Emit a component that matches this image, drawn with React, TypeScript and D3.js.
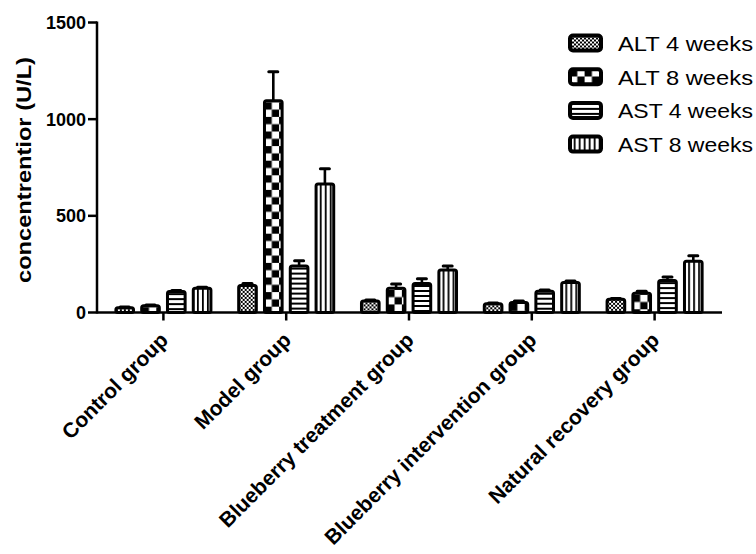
import React, { useEffect, useRef } from "react";
import * as d3 from "d3";

// groups on the x axis
const groups = [
  "Control group",
  "Model group",
  "Blueberry treatment group",
  "Blueberry intervention group",
  "Natural recovery group",
];

const series = ["ALT 4 weeks", "ALT 8 weeks", "AST 4 weeks", "AST 8 weeks"];

// mean values (U/L), one per group
const alt4 = [25, 140, 60, 45, 68];
const alt8 = [35, 1095, 125, 52, 100];
const ast4 = [108, 240, 150, 110, 165];
const ast8 = [125, 665, 220, 155, 265];

// error bar (upper) sizes
const alt4Err = [3, 10, 5, 4, 5];
const alt8Err = [4, 150, 22, 8, 10];
const ast4Err = [6, 28, 25, 6, 18];
const ast8Err = [6, 78, 20, 8, 28];

const yTicks = [0, 500, 1000, 1500];

const values = [alt4, alt8, ast4, ast8];
const errors = [alt4Err, alt8Err, ast4Err, ast8Err];

const FONT = "Arial, 'Liberation Sans', sans-serif";

const App = () => {
  const ref = useRef<SVGSVGElement>(null);

  useEffect(() => {
    const svg = d3.select(ref.current);
    svg.selectAll("*").remove();

    const axisX = 97;

    const y = d3.scaleLinear().domain([0, 1500]).range([312.5, 22.5]);
    const x0 = d3.scaleBand().domain(groups).range([102, 716]).padding(0);
    const x1 = d3
      .scaleBand()
      .domain(series)
      .range([0, x0.bandwidth()])
      .paddingInner(0.2)
      .paddingOuter(0.48);

    const defs = svg.append("defs");

    // fine checker (ALT 4 weeks)
    const makeFine = (id: string, ox: number, oy: number) => {
      const p = defs
        .append("pattern")
        .attr("id", id)
        .attr("patternUnits", "userSpaceOnUse")
        .attr("x", ox)
        .attr("y", oy)
        .attr("width", 4)
        .attr("height", 4);
      p.append("rect").attr("width", 4).attr("height", 4).attr("fill", "white");
      p.append("rect").attr("width", 2).attr("height", 2).attr("fill", "black");
      p.append("rect").attr("x", 2).attr("y", 2).attr("width", 2).attr("height", 2).attr("fill", "black");
    };
    // big checker (ALT 8 weeks)
    const makeBig = (id: string, ox: number, oy: number, s: number) => {
      const p = defs
        .append("pattern")
        .attr("id", id)
        .attr("patternUnits", "userSpaceOnUse")
        .attr("x", ox)
        .attr("y", oy)
        .attr("width", s * 2)
        .attr("height", s * 2);
      p.append("rect").attr("width", s * 2).attr("height", s * 2).attr("fill", "white");
      p.append("rect").attr("width", s).attr("height", s).attr("fill", "black");
      p.append("rect").attr("x", s).attr("y", s).attr("width", s).attr("height", s).attr("fill", "black");
    };
    // horizontal lines (AST 4 weeks)
    const makeHoriz = (id: string, ox: number, oy: number) => {
      const p = defs
        .append("pattern")
        .attr("id", id)
        .attr("patternUnits", "userSpaceOnUse")
        .attr("x", ox)
        .attr("y", oy)
        .attr("width", 10)
        .attr("height", 5);
      p.append("rect").attr("width", 10).attr("height", 5).attr("fill", "white");
      p.append("rect").attr("y", 0).attr("width", 10).attr("height", 2).attr("fill", "black");
    };
    // vertical lines (AST 8 weeks)
    const makeVert = (id: string, ox: number, oy: number) => {
      const p = defs
        .append("pattern")
        .attr("id", id)
        .attr("patternUnits", "userSpaceOnUse")
        .attr("x", ox)
        .attr("y", oy)
        .attr("width", 5)
        .attr("height", 10);
      p.append("rect").attr("width", 5).attr("height", 10).attr("fill", "white");
      p.append("rect").attr("x", 0).attr("width", 1.8).attr("height", 10).attr("fill", "black");
    };

    const makers = [
      (id: string, ox: number, oy: number) => makeFine(id, ox, oy),
      (id: string, ox: number, oy: number) => makeBig(id, ox, oy, 7.3),
      (id: string, ox: number, oy: number) => makeHoriz(id, ox, oy),
      (id: string, ox: number, oy: number) => makeVert(id, ox + 3.7, oy),
    ];

    const bw = x1.bandwidth();
    const base = y(0);

    // bars
    const barData = groups.flatMap((g, gi) =>
      series.map((s, si) => ({ g, gi, s, si, v: values[si][gi], e: errors[si][gi] }))
    );

    barData.forEach((d) => {
      const bx = (x0(d.g) as number) + (x1(d.s) as number);
      const id = `pat-${d.si}-${d.gi}`;
      makers[d.si](id, bx + 1.5, y(d.v) + 1.5);

      const top = y(d.v);
      const ty = y(d.v + d.e);
      const cx = bx + bw / 2;

      // error bar
      svg
        .append("line")
        .attr("x1", cx)
        .attr("x2", cx)
        .attr("y1", top)
        .attr("y2", ty)
        .attr("stroke", "black")
        .attr("stroke-width", 2.6);
      svg
        .append("line")
        .attr("x1", cx - 4.5)
        .attr("x2", cx + 4.5)
        .attr("y1", ty)
        .attr("y2", ty)
        .attr("stroke", "black")
        .attr("stroke-width", 3)
        .attr("stroke-linecap", "round");

      svg
        .append("rect")
        .attr("x", bx + 1.5)
        .attr("y", top)
        .attr("width", bw - 3)
        .attr("height", base - top)
        .attr("rx", 2)
        .attr("fill", `url(#${id})`)
        .attr("stroke", "black")
        .attr("stroke-width", 3);
    });

    // axes
    svg
      .append("line")
      .attr("x1", axisX)
      .attr("x2", 722)
      .attr("y1", base)
      .attr("y2", base)
      .attr("stroke", "black")
      .attr("stroke-width", 2.5);
    svg
      .append("line")
      .attr("x1", axisX)
      .attr("x2", axisX)
      .attr("y1", y(1500) - 1)
      .attr("y2", base + 1)
      .attr("stroke", "black")
      .attr("stroke-width", 2.5);

    yTicks.forEach((t) => {
      svg
        .append("line")
        .attr("x1", 88)
        .attr("x2", axisX)
        .attr("y1", y(t))
        .attr("y2", y(t))
        .attr("stroke", "black")
        .attr("stroke-width", 2.5);
      svg
        .append("text")
        .attr("x", 86)
        .attr("y", y(t))
        .attr("dy", "0.36em")
        .attr("text-anchor", "end")
        .attr("font-family", FONT)
        .attr("font-weight", "bold")
        .attr("font-size", 18)
        .text(t);
    });

    groups.forEach((g) => {
      const cx = (x0(g) as number) + x0.bandwidth() / 2;
      svg
        .append("line")
        .attr("x1", cx)
        .attr("x2", cx)
        .attr("y1", base)
        .attr("y2", base + 8)
        .attr("stroke", "black")
        .attr("stroke-width", 2.5);
      svg
        .append("text")
        .attr("transform", `translate(${cx + 6},${base + 29}) rotate(-45)`)
        .attr("text-anchor", "end")
        .attr("font-family", FONT)
        .attr("font-weight", "bold")
        .attr("font-size", 21)
        .text(g);
    });

    // y label
    svg
      .append("text")
      .attr("transform", `translate(31,170) rotate(-90)`)
      .attr("text-anchor", "middle")
      .attr("font-family", FONT)
      .attr("font-weight", "bold")
      .attr("font-size", 20)
      .attr("textLength", 226)
      .attr("lengthAdjust", "spacingAndGlyphs")
      .text("concentrentior (U/L)");

    // legend
    const legend = svg.append("g");
    series.forEach((s, i) => {
      const cy = 43 + i * 33.7;
      const id = `leg-${i}`;
      makers[i](id, 570, cy - 7.5);
      legend
        .append("rect")
        .attr("x", 570)
        .attr("y", cy - 7.5)
        .attr("width", 31)
        .attr("height", 15)
        .attr("rx", 3)
        .attr("fill", `url(#${id})`)
        .attr("stroke", "black")
        .attr("stroke-width", 4);
      legend
        .append("text")
        .attr("x", 618)
        .attr("y", cy + 8)
        .attr("font-family", FONT)
        .attr("font-size", 21)
        .attr("textLength", 135)
        .attr("lengthAdjust", "spacingAndGlyphs")
        .text(s);
    });
  }, []);

  return (
    <svg
      ref={ref}
      width={756}
      height={554}
      style={{ position: "absolute", left: 0, top: 0, background: "white" }}
    ></svg>
  );
};

export default App;
